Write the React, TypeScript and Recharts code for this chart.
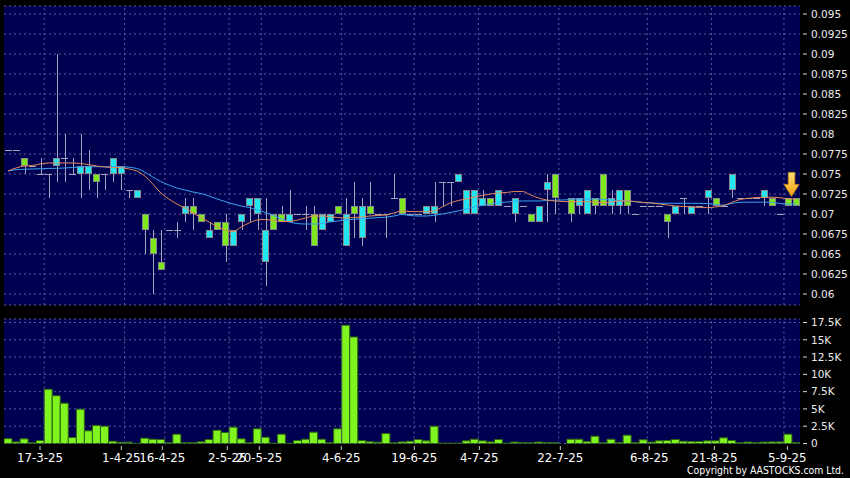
import React from 'react';
import {
  ComposedChart,
  Bar,
  Line,
  XAxis,
  YAxis,
  CartesianGrid,
  ReferenceLine,
  ReferenceDot,
} from 'recharts';

// ---- data (one slot per trading session) ----
const opens = [
  0.078, 0.078, 0.076, 0.076, 0.075, 0.075, 0.077, 0.077, 0.075, 0.076,
  0.076, 0.074, 0.075, 0.077, 0.076, 0.073, 0.073, 0.068, 0.065, 0.063,
  0.068, 0.068, 0.071, 0.070, 0.069, 0.068, 0.068, 0.066, 0.068, 0.070,
  0.072, 0.072, 0.068, 0.068, 0.069, 0.070, 0.070, 0.070, 0.066, 0.070,
  0.070, 0.070, 0.070, 0.070, 0.071, 0.070, 0.070, 0.070, 0.072, 0.070,
  0.070, 0.070, 0.071, 0.071, 0.074, 0.074, 0.075, 0.073, 0.073, 0.072,
  0.071, 0.073, 0.071, 0.072, 0.071, 0.069, 0.071, 0.074, 0.072, null,
  0.070, 0.072, 0.073, 0.071, 0.071, 0.072, 0.073, 0.071, 0.070, 0.071,
  0.071, 0.071, 0.069, 0.071, 0.072, 0.071, 0.071, 0.073, 0.071, 0.071,
  0.075, 0.072, 0.072, 0.072, 0.073, 0.071, 0.070, 0.071, 0.071,
];
const highs = [
  0.078, 0.078, 0.077, 0.076, 0.077, 0.075, 0.090, 0.080, 0.077, 0.080,
  0.078, 0.075, 0.075, 0.077, 0.076, 0.073, 0.073, 0.070, 0.068, 0.068,
  0.068, 0.069, 0.072, 0.072, 0.070, 0.069, 0.069, 0.070, 0.068, 0.070,
  0.072, 0.072, 0.072, 0.070, 0.071, 0.073, 0.070, 0.071, 0.071, 0.070,
  0.070, 0.071, 0.072, 0.074, 0.072, 0.074, 0.070, 0.070, 0.075, 0.072,
  0.070, 0.070, 0.071, 0.074, 0.074, 0.074, 0.075, 0.073, 0.073, 0.073,
  0.072, 0.073, 0.071, 0.072, 0.071, 0.070, 0.071, 0.075, 0.075, null,
  0.072, 0.072, 0.073, 0.072, 0.075, 0.073, 0.073, 0.073, 0.070, 0.071,
  0.071, 0.071, 0.070, 0.071, 0.072, 0.071, 0.071, 0.073, 0.072, 0.071,
  0.075, 0.072, 0.072, 0.072, 0.073, 0.072, 0.070, 0.072, 0.072,
];
const lows = [
  0.078, 0.078, 0.075, 0.076, 0.075, 0.072, 0.074, 0.074, 0.075, 0.072,
  0.073, 0.072, 0.073, 0.074, 0.073, 0.072, 0.072, 0.065, 0.060, 0.063,
  0.068, 0.067, 0.069, 0.068, 0.069, 0.067, 0.068, 0.064, 0.066, 0.068,
  0.069, 0.068, 0.061, 0.068, 0.069, 0.069, 0.070, 0.068, 0.066, 0.068,
  0.069, 0.070, 0.066, 0.067, 0.066, 0.070, 0.070, 0.067, 0.072, 0.070,
  0.070, 0.070, 0.070, 0.069, 0.071, 0.071, 0.074, 0.070, 0.070, 0.071,
  0.071, 0.071, 0.071, 0.069, 0.071, 0.069, 0.069, 0.069, 0.070, null,
  0.069, 0.070, 0.070, 0.070, 0.071, 0.070, 0.070, 0.070, 0.070, 0.071,
  0.071, 0.071, 0.067, 0.070, 0.070, 0.070, 0.071, 0.070, 0.071, 0.071,
  0.072, 0.072, 0.072, 0.072, 0.071, 0.071, 0.070, 0.071, 0.071,
];
const closes = [
  0.078, 0.078, 0.077, 0.076, 0.075, 0.075, 0.076, 0.077, 0.075, 0.075,
  0.075, 0.075, 0.075, 0.075, 0.075, 0.073, 0.072, 0.070, 0.067, 0.064,
  0.068, 0.068, 0.070, 0.071, 0.070, 0.067, 0.069, 0.069, 0.066, 0.069,
  0.071, 0.070, 0.064, 0.070, 0.070, 0.069, 0.070, 0.070, 0.070, 0.068,
  0.069, 0.071, 0.066, 0.071, 0.067, 0.071, 0.070, 0.070, 0.072, 0.072,
  0.070, 0.070, 0.070, 0.070, 0.074, 0.074, 0.074, 0.070, 0.070, 0.071,
  0.072, 0.071, 0.071, 0.070, 0.071, 0.070, 0.069, 0.073, 0.075, null,
  0.072, 0.071, 0.070, 0.072, 0.075, 0.071, 0.071, 0.073, 0.070, 0.071,
  0.071, 0.071, 0.070, 0.070, 0.072, 0.070, 0.071, 0.072, 0.072, 0.071,
  0.073, 0.072, 0.072, 0.072, 0.072, 0.072, 0.070, 0.072, 0.072,
];
const volumes = [
  700, 230, 670, 100, 430, 7850, 6900, 5830, 870, 4960,
  1830, 2600, 2500, 330, 190, 190, 20, 770, 620, 580,
  100, 1350, 100, 140, 240, 580, 1920, 1590, 2360, 670,
  140, 2120, 910, 50, 1350, 20, 430, 620, 1640, 620,
  140, 2120, 17100, 15400, 430, 240, 190, 1450, 100, 230,
  330, 580, 380, 2500, 50, 50, 50, 380, 620, 380,
  230, 580, 50, 200, 150, 100, 200, 150, 100, 0,
  620, 620, 280, 1050, 100, 620, 150, 1200, 150, 530,
  200, 380, 430, 580, 330, 280, 280, 380, 380, 820,
  430, 100, 200, 150, 200, 230, 230, 1350, 150,
];
const maShort = [
  0.07538, 0.07575, 0.07600, 0.07606, 0.07625, 0.07638, 0.07638, 0.07638, 0.07638, 0.07631,
  0.07619, 0.07600, 0.07588, 0.07581, 0.07579, 0.07563, 0.07538, 0.07475, 0.07375, 0.07263,
  0.07188, 0.07125, 0.07075, 0.07013, 0.06956, 0.06900, 0.06844, 0.06800, 0.06781, 0.06838,
  0.06888, 0.06925, 0.06931, 0.06919, 0.06906, 0.06906, 0.06925, 0.06950, 0.06975, 0.06975,
  0.06969, 0.06956, 0.06950, 0.06956, 0.06963, 0.06975, 0.06981, 0.06988, 0.07013, 0.07038,
  0.07031, 0.07029, 0.07029, 0.07038, 0.07088, 0.07138, 0.07169, 0.07188, 0.07213, 0.07231,
  0.07250, 0.07263, 0.07269, 0.07281, 0.07281, 0.07238, 0.07200, 0.07175, 0.07163, 0.07156,
  0.07154, 0.07154, 0.07154, 0.07150, 0.07138, 0.07150, 0.07163, 0.07163, 0.07156, 0.07144,
  0.07138, 0.07125, 0.07113, 0.07100, 0.07094, 0.07088, 0.07081, 0.07079, 0.07088, 0.07106,
  0.07144, 0.07181, 0.07194, 0.07206, 0.07209, 0.07210, 0.07203, 0.07191, 0.07184,
];
const maLong = [
  0.07538, 0.07553, 0.07559, 0.07563, 0.07565, 0.07569, 0.07571, 0.07575, 0.07581, 0.07588,
  0.07591, 0.07591, 0.07591, 0.07591, 0.07590, 0.07585, 0.07569, 0.07525, 0.07463, 0.07406,
  0.07363, 0.07325, 0.07300, 0.07275, 0.07256, 0.07225, 0.07188, 0.07156, 0.07125, 0.07100,
  0.07081, 0.07050, 0.07019, 0.06981, 0.06938, 0.06900, 0.06881, 0.06875, 0.06875, 0.06881,
  0.06900, 0.06913, 0.06925, 0.06934, 0.06941, 0.06948, 0.06954, 0.06960, 0.06975, 0.06994,
  0.06981, 0.06975, 0.06975, 0.06984, 0.07000, 0.07019, 0.07038, 0.07063, 0.07088, 0.07109,
  0.07125, 0.07140, 0.07150, 0.07159, 0.07163, 0.07163, 0.07163, 0.07169, 0.07173, 0.07175,
  0.07181, 0.07188, 0.07188, 0.07188, 0.07181, 0.07175, 0.07169, 0.07163, 0.07153, 0.07144,
  0.07138, 0.07134, 0.07134, 0.07134, 0.07134, 0.07134, 0.07133, 0.07131, 0.07119, 0.07110,
  0.07131, 0.07146, 0.07148, 0.07148, 0.07148, 0.07146, 0.07131, 0.07125, 0.07125,
];

const dateLabels = ['17-3-25', '1-4-25', '16-4-25', '2-5-25', '20-5-25', '4-6-25', '19-6-25', '4-7-25', '22-7-25', '6-8-25', '21-8-25', '5-9-25'];
const dateTickPos = [4.48, 14.59, 19.69, 27.77, 31.75, 41.95, 51.03, 59.12, 69.19, 80.26, 88.35, 97.43];
const dateGridPos = [5, 15, 20, 28, 32, 42, 51, 59, 69, 80, 88, 97];

const priceTicks = [0.06, 0.0625, 0.065, 0.0675, 0.07, 0.0725, 0.075, 0.0775, 0.08, 0.0825, 0.085, 0.0875, 0.09, 0.0925, 0.095];
const volTicks = [0, 2500, 5000, 7500, 10000, 12500, 15000, 17500];
const volTickLabels = ['0', '2.5K', '5K', '7.5K', '10K', '12.5K', '15K', '17.5K'];

const lastMarker = { x: 97.95, y: 0.0722 };

// ---- style ----
const BG = '#000050';
const GRID = '#5c5ca0';
const GREEN = '#7ee81e';
const CYAN = '#22e6f2';
const WICK = '#a4a4bc';
const FONT = 'DejaVu Sans';

const candleData = opens.map((o, i) => ({
  x: i + 0.5,
  open: o,
  high: highs[i],
  low: lows[i],
  close: closes[i],
  range: o == null ? null : [lows[i], highs[i]],
  maS: maShort[i],
  maL: maLong[i],
}));
const volData = volumes.map((v, i) => ({ x: i + 0.5, vol: v }));

const Candle = (props: any) => {
  const { x, y, width, height, payload } = props;
  if (!payload || payload.open == null || x == null || y == null) return null;
  const { open, close, high, low } = payload;
  const cx = Math.round(x + width / 2) + 0.5;
  const span = high - low;
  const ratio = span > 0 ? height / span : 0;
  const py = (v: number) => y + (high - v) * ratio;
  const top = py(Math.max(open, close));
  const bot = py(Math.min(open, close));
  const left = Math.round(x);
  const w = Math.round(width);
  const wick = span > 0 ? (
    <line x1={cx} x2={cx} y1={y} y2={y + height} stroke={WICK} strokeWidth={1} />
  ) : null;
  if (open === close) {
    const ly = Math.round(top) + 0.5;
    return (
      <g>
        {wick}
        <line x1={left} x2={left + w} y1={ly} y2={ly} stroke={WICK} strokeWidth={1} />
      </g>
    );
  }
  const fill = close > open ? GREEN : CYAN;
  return (
    <g>
      {wick}
      <rect x={left + 0.5} y={Math.round(top) + 0.5} width={w - 1} height={Math.round(bot) - Math.round(top) - 1} fill={fill} stroke="#8a8a8a" strokeWidth={1} />
    </g>
  );
};

const PriceTick = (props: any) => {
  const { x, y, payload } = props;
  const label = String(parseFloat(Number(payload.value).toFixed(4)));
  return (
    <g>
      <line x1={x + 3} x2={x + 7} y1={y} y2={y} stroke="#d8d8d8" strokeWidth={1} />
      <text x={x + 11} y={y} dy={3.8} fill="#ececec" fontSize={10.5} fontFamily={FONT}>{label}</text>
    </g>
  );
};

const VolTick = (props: any) => {
  const { x, y, payload } = props;
  const idx = volTicks.indexOf(payload.value);
  return (
    <g>
      <line x1={x + 3} x2={x + 7} y1={y} y2={y} stroke="#d8d8d8" strokeWidth={1} />
      <text x={x + 11} y={y} dy={3.8} fill="#ececec" fontSize={10.5} fontFamily={FONT}>{volTickLabels[idx]}</text>
    </g>
  );
};

const DateTick = (props: any) => {
  const { x, y, payload } = props;
  const idx = dateTickPos.indexOf(payload.value);
  return (
    <g>
      <line x1={x} x2={x} y1={y + 2.5} y2={y + 6.5} stroke="#c8c8c8" strokeWidth={1} />
      <text x={x} y={y + 18.5} textAnchor="middle" fill="#ffffff" fontSize={11.8} fontFamily={FONT}>{dateLabels[idx]}</text>
    </g>
  );
};

const Arrow = (props: any) => {
  const { cx, cy } = props;
  if (cx == null || cy == null) return null;
  const pts = [
    [cx - 3.3, cy - 24],
    [cx + 3.3, cy - 24],
    [cx + 3.3, cy - 12],
    [cx + 7.5, cy - 12],
    [cx, cy],
    [cx - 7.5, cy - 12],
    [cx - 3.3, cy - 12],
  ].map((p) => p.join(',')).join(' ');
  return (
    <g>
      <defs>
        <linearGradient id="arrowGrad" x1="0" y1="0" x2="0" y2="1">
          <stop offset="0%" stopColor="#ffe070" />
          <stop offset="100%" stopColor="#f0a010" />
        </linearGradient>
      </defs>
      <polygon points={pts} fill="url(#arrowGrad)" stroke="#c88a10" strokeWidth={0.8} />
    </g>
  );
};

export default function App() {
  return (
    <div style={{ position: 'absolute', left: 0, top: 0, width: 850, height: 478, background: '#000', overflow: 'hidden' }}>
      <div style={{ position: 'absolute', left: 0, top: 0 }}>
        <ComposedChart width={850} height={312} data={candleData} margin={{ top: 6, right: 0, bottom: 7, left: 4 }}>
          <CartesianGrid horizontal vertical={false} fill={BG} stroke={GRID} strokeDasharray="2 3" />
          <XAxis dataKey="x" type="number" domain={[0, 99]} hide allowDataOverflow />
          <YAxis
            orientation="right"
            width={50}
            type="number"
            domain={[0.058625, 0.096]}
            ticks={priceTicks}
            interval={0}
            tickSize={0}
            tickMargin={0}
            axisLine={false}
            tickLine={false}
            tick={<PriceTick />}
            allowDataOverflow
          />
          {dateGridPos.map((g) => (
            <ReferenceLine key={g} x={g} stroke={GRID} strokeDasharray="2 3" />
          ))}
          <Bar dataKey="range" barSize={7} shape={<Candle />} isAnimationActive={false} />
          <Line dataKey="maL" type="monotone" stroke="#3aa2ee" strokeWidth={1} dot={false} isAnimationActive={false} />
          <Line dataKey="maS" type="monotone" stroke="#e8895a" strokeWidth={1} dot={false} isAnimationActive={false} />
          <ReferenceDot x={lastMarker.x} y={lastMarker.y} shape={<Arrow />} />
        </ComposedChart>
      </div>
      <div style={{ position: 'absolute', left: 0, top: 312 }}>
        <ComposedChart width={850} height={166} data={volData} margin={{ top: 7, right: 0, bottom: 0, left: 4 }}>
          <CartesianGrid horizontal vertical={false} fill={BG} stroke={GRID} strokeDasharray="2 3" />
          <XAxis
            dataKey="x"
            type="number"
            domain={[0, 99]}
            ticks={dateTickPos}
            interval={0}
            height={34.5}
            tickSize={0}
            tickMargin={0}
            axisLine={false}
            tickLine={false}
            tick={<DateTick />}
            allowDataOverflow
          />
          <YAxis
            orientation="right"
            width={50}
            type="number"
            domain={[0, 18000]}
            ticks={volTicks}
            interval={0}
            tickSize={0}
            tickMargin={0}
            axisLine={false}
            tickLine={false}
            tick={<VolTick />}
            allowDataOverflow
          />
          {dateGridPos.map((g) => (
            <ReferenceLine key={g} x={g} stroke={GRID} strokeDasharray="2 3" />
          ))}
          <Bar dataKey="vol" barSize={8} fill="#80f41e" stroke="#2f6414" strokeWidth={1} isAnimationActive={false} />
        </ComposedChart>
      </div>
      <svg style={{ position: 'absolute', left: 0, top: 0 }} width={850} height={478}>
        <text x={687} y={474} fill="#ffffff" fontSize={10.5} fontFamily={FONT} textLength={157} lengthAdjust="spacingAndGlyphs">
          Copyright by AASTOCKS.com Ltd.
        </text>
      </svg>
    </div>
  );
}
